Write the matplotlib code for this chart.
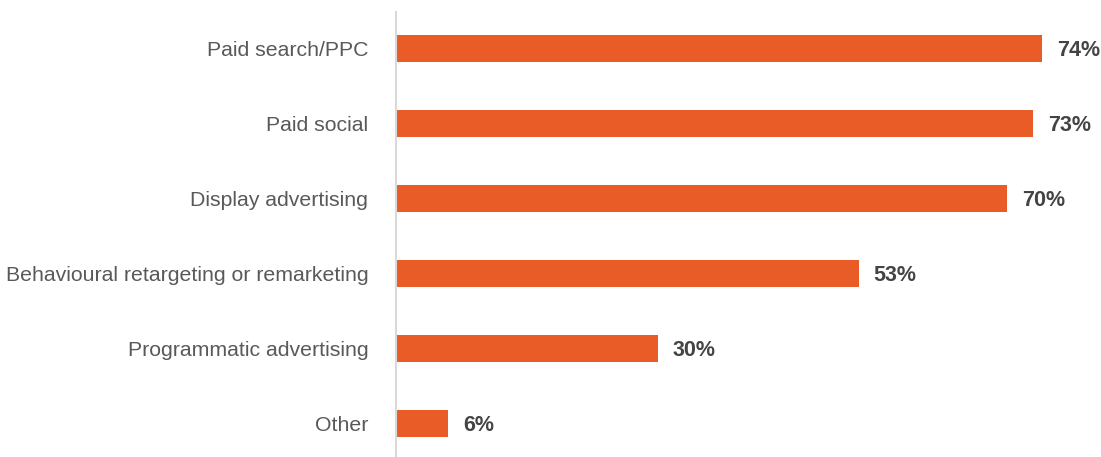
import matplotlib.pyplot as plt

# channels and share of respondents using them (%)
channels = ["Paid search/PPC", "Paid social", "Display advertising",
            "Behavioural retargeting or remarketing", "Programmatic advertising", "Other"]
shares = [74, 73, 70, 53, 30, 6]

plt.rcParams['font.family'] = ['Liberation Sans', 'DejaVu Sans']

fig = plt.figure(figsize=(11.01, 4.57), dpi=100)
ax = fig.add_axes([396 / 1101, 0, 705 / 1101, 445 / 457])

y = list(range(len(channels)))
ax.barh(y, shares, height=0.36, color="#E95C27")

for yi, v in zip(y, shares):
    ax.text(v + 1.7, yi + 0.02, f"{v}%", va="center", ha="left",
            fontsize=15.5, fontweight="bold", color="#444444")

ax.set_xlim(0, 705 / 8.73)
ax.set_ylim(5.44, -0.493)
ax.set_yticks(y)
ax.set_yticklabels(channels, fontsize=15.3, color="#595959")
ax.tick_params(axis="y", length=0, pad=20)
ax.set_xticks([])

for s in ["top", "right", "bottom"]:
    ax.spines[s].set_visible(False)
ax.spines["left"].set_color("#D9D9D9")
ax.spines["left"].set_linewidth(1.5)

fig.savefig("out.png", dpi=100)
